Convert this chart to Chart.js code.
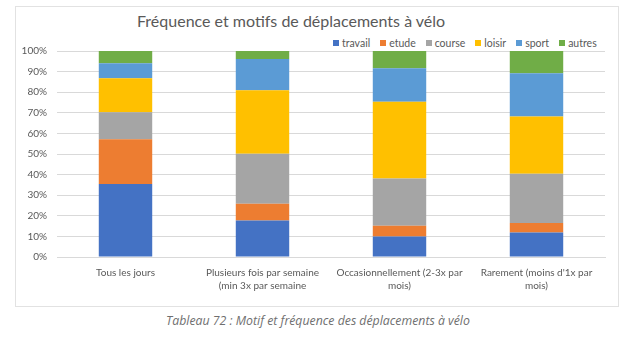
<!DOCTYPE html>
<html>
<head>
<meta charset="utf-8">
<script src="https://cdn.jsdelivr.net/npm/chart.js@4/dist/chart.umd.min.js"></script>
<style>
  body { margin: 0; background: #fff; width: 632px; height: 337px; position: relative; overflow: hidden; font-family: Lato, sans-serif; }
  #frame { position: absolute; left: 15px; top: 6px; width: 604px; height: 301px; border: 1px solid #e2e2e2; box-sizing: border-box; }
  #title { position: absolute; left: 137px; top: 11px; font-size: 16px; line-height: 19px; color: #595959; white-space: nowrap; }
  #legend { position: absolute; left: 333px; top: 37px; height: 12px; display: flex; align-items: center; font-size: 10.5px; color: #595959; white-space: nowrap; }
  #legend span.box { display: inline-block; width: 6px; height: 6px; margin-right: 3px; }
  #legend span.item { display: flex; align-items: center; margin-right: 10px; }
  #wrap { position: absolute; left: 15px; top: 6px; width: 603px; height: 300px; }
  #caption { position: absolute; left: 0; width: 636px; top: 312px; text-align: center; font-size: 12.3px; font-style: italic; color: #6f6f6f; font-family: "Open Sans", sans-serif; }
</style>
</head>
<body>
<div id="frame"></div>
<div id="title">Fréquence et motifs de déplacements à vélo</div>
<div id="legend"></div>
<div id="wrap"><canvas id="chart"></canvas></div>
<div id="caption">Tableau 72 : Motif et fréquence des déplacements à vélo</div>
<script>
// categories and series (percent of each bar)
const categories = [
  'Tous les jours',
  ['Plusieurs fois par semaine', '(min 3x par semaine'],
  ['Occasionnellement (2-3x par', 'mois)'],
  ["Rarement (moins d'1x par", 'mois)']
];
const travail = [35.4, 17.7, 10.0, 11.9];
const etude = [21.8, 8.1, 5.2, 4.6];
const course = [13.1, 24.3, 22.9, 23.9];
const loisir = [16.5, 30.8, 37.3, 27.8];
const sport = [7.2, 15.2, 16.2, 21.0];
const autres = [6.0, 3.9, 8.4, 10.8];
const yTicks = [0, 10, 20, 30, 40, 50, 60, 70, 80, 90, 100];

const series = [
  { label: 'travail', data: travail, color: '#4472C4' },
  { label: 'etude', data: etude, color: '#ED7D31' },
  { label: 'course', data: course, color: '#A5A5A5' },
  { label: 'loisir', data: loisir, color: '#FFC000' },
  { label: 'sport', data: sport, color: '#5B9BD5' },
  { label: 'autres', data: autres, color: '#70AD47' }
];

const txt = '#595959';
const font = { family: 'Lato', size: 10 };

const chart = new Chart(document.getElementById('chart'), {
  type: 'bar',
  data: {
    labels: categories,
    datasets: series.map(s => ({
      label: s.label,
      data: s.data,
      backgroundColor: s.color,
      borderWidth: 0,
      categoryPercentage: 1,
      barPercentage: 0.39
    }))
  },
  options: {
    responsive: true,
    maintainAspectRatio: false,
    animation: false,
    layout: { padding: { top: 45, right: 13, bottom: 14, left: 0 } },
    plugins: {
      title: { display: false },
      tooltip: { enabled: false },
      legend: { display: false }
    },
    scales: {
      x: {
        stacked: true,
        afterFit: s => { s.height = 35; },
        grid: { display: false, drawTicks: false },
        border: { color: '#d9d9d9' },
        ticks: { color: txt, font: { family: 'Lato', size: 10, lineHeight: 1.3 }, maxRotation: 0, autoSkip: false, padding: 9 }
      },
      y: {
        stacked: true,
        min: 0, max: 100,
        afterFit: s => { s.width = 42; },
        afterBuildTicks: s => { s.ticks = yTicks.map(v => ({ value: v })); },
        grid: { color: '#d9d9d9', drawTicks: false },
        border: { display: false },
        ticks: { color: txt, font: font, padding: 10, callback: v => v + '%' }
      }
    }
  }
});

// legend drawn from the chart's own datasets
const legend = document.getElementById('legend');
chart.data.datasets.forEach(ds => {
  const item = document.createElement('span');
  item.className = 'item';
  const box = document.createElement('span');
  box.className = 'box';
  box.style.background = ds.backgroundColor;
  item.appendChild(box);
  item.appendChild(document.createTextNode(ds.label));
  legend.appendChild(item);
});
</script>
</body>
</html>
